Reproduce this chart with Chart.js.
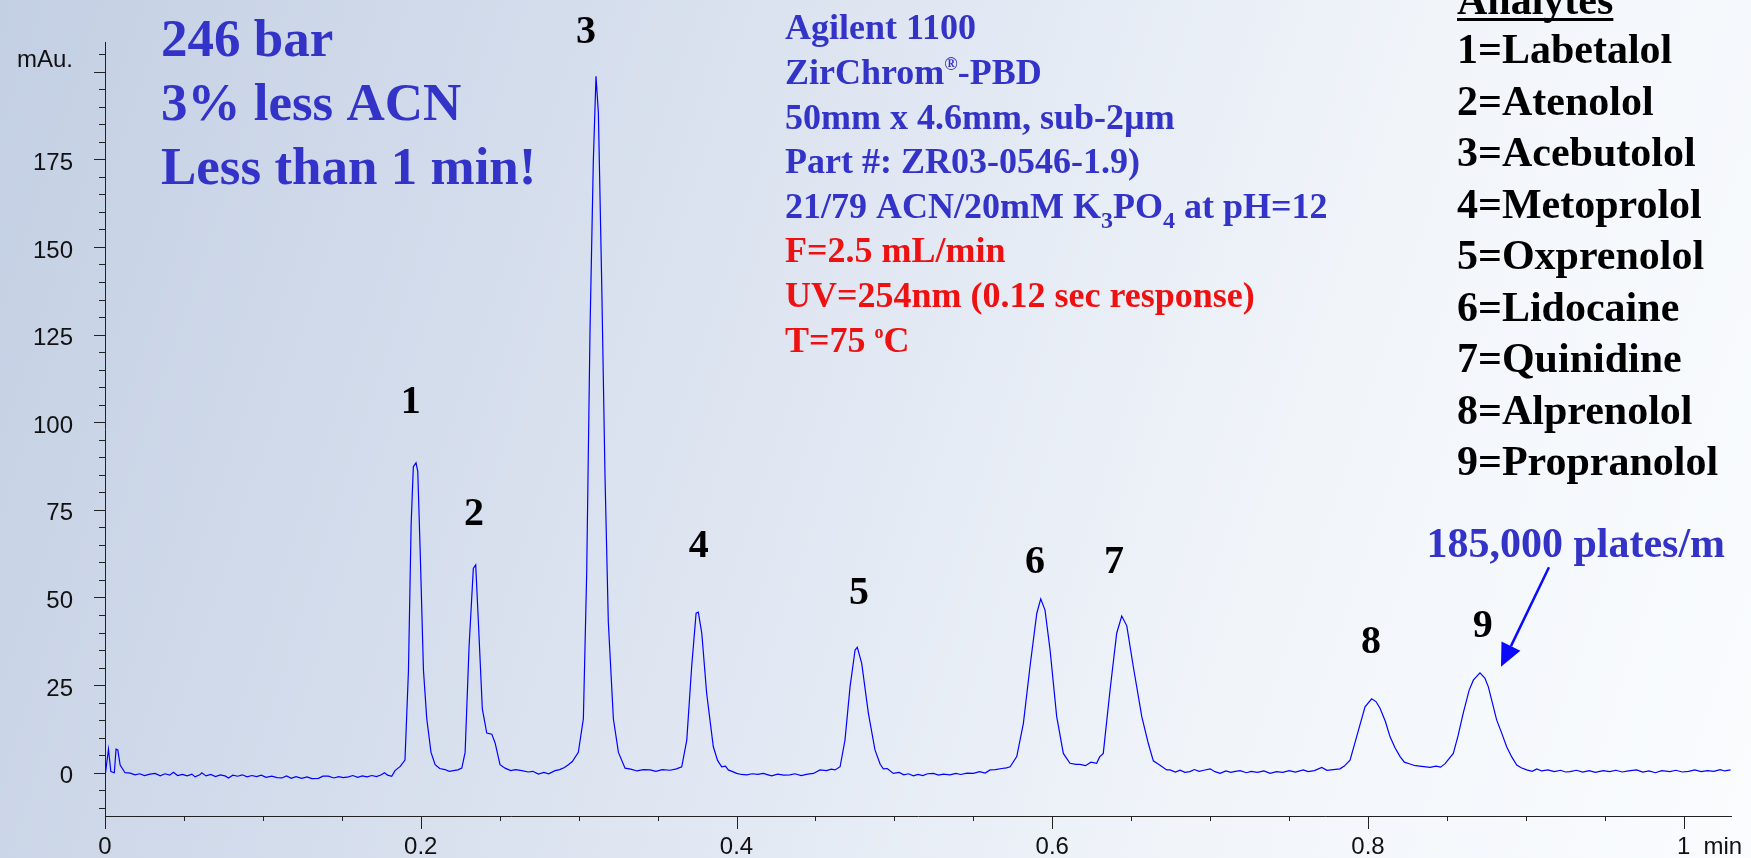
<!DOCTYPE html>
<html>
<head>
<meta charset="utf-8">
<title>Beta-blocker separation on ZirChrom-PBD</title>
<script src="https://cdn.jsdelivr.net/npm/chart.js@4.4.1/dist/chart.umd.min.js"></script>
<style>
  html, body { margin: 0; padding: 0; }
  body {
    width: 1751px;
    height: 858px;
    overflow: hidden;
    background: linear-gradient(108deg, #c3cfe3 0%, #d4ddec 28%, #e4eaf4 52%, #f1f5fa 72%, #fafcfe 100%);
  }
  canvas { display: block; }
</style>
</head>
<body>
<canvas id="chromatogram" width="1751" height="858"></canvas>
<script>
// detector trace, [time (min), signal (mAU)]
const leadIn = [
  [0.0000,-1.2],[0.0022,6.7],[0.0037,0.3],[0.0059,0.0],[0.0070,6.7],[0.0081,6.5],[0.0096,2.2],[0.0127,0.0],[0.0160,-0.1],[0.0190,-0.6],
  [0.0220,-0.3],[0.0250,-0.8],[0.0285,-0.4],[0.0317,-0.2],[0.0350,-0.9],[0.0380,-0.3],[0.0410,-0.7],[0.0433,0.1],[0.0460,-0.8],[0.0490,-0.5],
  [0.0520,-0.9],[0.0550,-0.4],[0.0571,-1.2],[0.0600,-0.6],[0.0613,0.0],[0.0640,-0.9],[0.0670,-0.5],[0.0700,-1.1],[0.0730,-0.6],[0.0760,-0.9],
  [0.0782,-1.5],[0.0810,-0.7],[0.0840,-1.0],[0.0870,-0.6],[0.0900,-1.2],[0.0930,-0.8],[0.0960,-1.1],[0.0990,-0.7],[0.1020,-1.3],[0.1056,-1.0],
  [0.1090,-1.4],[0.1120,-1.5],[0.1150,-0.9],[0.1180,-1.6],[0.1210,-1.1],[0.1246,-1.6],[0.1280,-1.2],[0.1310,-1.7],[0.1352,-1.6],[0.1380,-1.0],
  [0.1415,-1.0],[0.1450,-1.5],[0.1480,-1.1],[0.1510,-1.4],[0.1542,-1.2],[0.1570,-0.8],[0.1600,-1.3],[0.1630,-0.9],[0.1660,-1.2],[0.1690,-0.8],
  [0.1720,-1.1],[0.1750,-0.6],[0.1770,0.0],[0.1790,-0.7],[0.1816,-1.0],[0.1837,0.6],[0.1870,1.8],[0.1900,3.6]
];
const peaks1to3 = [
  [0.1922,29.0],[0.1939,70.8],[0.1953,87.3],[0.1970,88.4],[0.1981,86.0],[0.1996,63.8],[0.2017,29.3],[0.2038,15.4],[0.2065,5.8],[0.2091,2.3],
  [0.2120,1.2],[0.2154,0.9],[0.2180,0.4],[0.2207,0.6],[0.2235,0.8],[0.2260,1.3],[0.2281,5.8],[0.2306,36.0],[0.2333,58.3],[0.2348,59.3],
  [0.2365,43.0],[0.2390,18.2],[0.2418,11.3],[0.2450,11.0],[0.2471,8.5],[0.2502,2.3],[0.2534,1.3],[0.2570,0.6],[0.2600,0.9],[0.2640,0.6],
  [0.2680,0.2],[0.2710,0.4],[0.2745,-0.4],[0.2780,0.1],[0.2810,-0.3],[0.2851,0.6],[0.2880,0.9],[0.2910,1.5],[0.2935,2.3],[0.2960,3.2],
  [0.2998,5.8],[0.3030,15.4],[0.3051,57.0],[0.3072,126.0],[0.3093,174.5],[0.3110,198.7],[0.3125,188.3],[0.3146,140.0],[0.3167,84.6],[0.3188,43.0],
  [0.3220,15.4],[0.3252,5.8],[0.3294,1.3]
];
const peaks4and5 = [
  [0.3330,1.0],[0.3370,0.5],[0.3410,0.9],[0.3452,0.8],[0.3490,0.4],[0.3530,0.9],[0.3579,0.7],[0.3620,1.1],[0.3653,1.7],[0.3685,9.3],
  [0.3716,30.3],[0.3744,45.5],[0.3758,45.8],[0.3780,39.8],[0.3811,22.6],[0.3853,7.4],[0.3880,3.5],[0.3906,1.7],[0.3930,1.9],[0.3948,0.8],
  [0.3975,0.3],[0.4001,-0.2],[0.4030,-0.5],[0.4065,-0.6],[0.4100,-0.3],[0.4135,-0.5],[0.4170,-0.2],[0.4200,-0.6],[0.4223,-0.9],[0.4260,-0.4],
  [0.4300,-0.7],[0.4339,-0.6],[0.4370,-0.3],[0.4410,-0.8],[0.4450,-0.4],[0.4487,-0.2],[0.4529,0.8],[0.4570,0.6],[0.4600,1.0],[0.4624,0.8],
  [0.4656,1.7],[0.4687,9.3],[0.4719,24.5],[0.4751,35.0],[0.4765,35.8],[0.4793,31.2],[0.4835,17.0],[0.4877,6.5],[0.4910,2.4],[0.4930,1.1],
  [0.4955,1.2]
];
const peaks6and7 = [
  [0.4993,-0.2],[0.5030,0.1],[0.5060,-0.6],[0.5090,-0.3],[0.5120,-0.9],[0.5150,-0.5],[0.5180,-0.8],[0.5210,-0.3],[0.5247,-0.2],[0.5280,-0.7],
  [0.5310,-0.4],[0.5352,-0.6],[0.5390,-0.2],[0.5420,-0.5],[0.5460,-0.1],[0.5500,-0.2],[0.5540,0.3],[0.5575,-0.1],[0.5606,0.8],[0.5640,0.9],
  [0.5680,1.2],[0.5710,1.4],[0.5733,1.7],[0.5775,4.6],[0.5817,14.1],[0.5859,30.3],[0.5902,45.5],[0.5927,49.6],[0.5954,46.4],[0.5986,35.0],
  [0.6028,16.0],[0.6070,5.5],[0.6112,2.7],[0.6150,2.4],[0.6176,2.4],[0.6210,2.0],[0.6245,3.0],[0.6281,2.7],[0.6300,4.5],[0.6323,5.5],
  [0.6366,23.6],[0.6408,39.8],[0.6440,44.7],[0.6472,41.9],[0.6513,30.3],[0.6567,16.0],[0.6608,8.4],[0.6640,3.4],[0.6680,2.2],[0.6725,0.8]
];
const peaks8and9 = [
  [0.6746,0.8],[0.6780,0.2],[0.6810,0.7],[0.6840,0.1],[0.6872,0.3],[0.6900,0.9],[0.6930,0.4],[0.6960,0.7],[0.7000,1.1],[0.7030,0.3],
  [0.7063,-0.2],[0.7100,0.5],[0.7130,0.1],[0.7160,0.4],[0.7190,0.6],[0.7230,0.0],[0.7260,0.4],[0.7300,0.1],[0.7340,0.5],[0.7380,-0.2],
  [0.7420,0.3],[0.7460,0.1],[0.7500,0.6],[0.7540,0.2],[0.7590,0.8],[0.7620,0.3],[0.7660,0.6],[0.7707,1.5],[0.7740,0.7],[0.7780,0.9],
  [0.7822,1.1],[0.7850,1.9],[0.7886,3.6],[0.7928,10.3],[0.7981,18.8],[0.8023,21.1],[0.8050,20.3],[0.8076,18.4],[0.8110,14.6],[0.8139,10.3],
  [0.8170,7.2],[0.8203,4.6],[0.8230,3.0],[0.8266,2.5],[0.8300,2.0],[0.8340,1.8],[0.8393,1.5],[0.8430,1.9],[0.8460,1.6],[0.8488,2.6],
  [0.8540,5.5],[0.8570,10.5],[0.8603,17.0],[0.8640,23.5],[0.8667,26.4],[0.8709,28.5],[0.8740,27.0],[0.8762,24.5],[0.8790,19.5],[0.8815,15.0],
  [0.8845,11.5],[0.8878,7.4],[0.8910,4.5],[0.8942,2.2],[0.8970,1.4],[0.9005,0.8],[0.9040,0.4],[0.9069,1.1],[0.9100,0.5],[0.9140,0.8],
  [0.9180,0.3],[0.9220,0.7],[0.9250,0.2],[0.9279,0.3],[0.9320,0.7],[0.9360,0.2],[0.9400,0.6],[0.9440,0.1],[0.9490,0.6],[0.9530,0.3],
  [0.9570,0.7],[0.9610,0.2],[0.9650,0.5],[0.9701,0.8],[0.9740,0.2],[0.9780,0.5],[0.9820,0.0],[0.9860,0.6],[0.9912,0.3],[0.9950,0.7],
  [0.9990,0.2],[1.0030,0.4],[1.0070,0.8],[1.0110,0.3],[1.0150,0.6],[1.0190,0.4],[1.0230,0.9],[1.0260,0.5],[1.0296,0.8]
];

// peak numbers and where their labels sit (time, mAU)
const peakIds = ['1', '2', '3', '4', '5', '6', '7', '8', '9'];
const peakLabelTime = [0.1937, 0.2338, 0.3047, 0.3761, 0.4776, 0.5891, 0.6391, 0.8019, 0.8726];
const peakLabelMau = [102.6, 70.7, 208.1, 61.6, 48.0, 56.9, 56.9, 34.1, 38.8];

// axis ticks
const xMajor = [0, 0.2, 0.4, 0.6, 0.8, 1];
const xTickLabels = ['0', '0.2', '0.4', '0.6', '0.8', '1'];
const yMajor = [0, 25, 50, 75, 100, 125, 150, 175];
const yTickLabels = ['0', '25', '50', '75', '100', '125', '150', '175'];

// text blocks; ^c = superscript char, _c = subscript char
const headline = ['246 bar', '3% less ACN', 'Less than 1 min!'];
const columnInfo = ['Agilent 1100', 'ZirChrom^®-PBD', '50mm x 4.6mm, sub-2µm', 'Part #: ZR03-0546-1.9)', '21/79 ACN/20mM K_3PO_4 at pH=12'];
const runConditions = ['F=2.5 mL/min', 'UV=254nm (0.12 sec response)', 'T=75 ^oC'];
const analytes = ['Labetalol', 'Atenolol', 'Acebutolol', 'Metoprolol', 'Oxprenolol', 'Lidocaine', 'Quinidine', 'Alprenolol', 'Propranolol'];
const plateNote = '185,000 plates/m';

const SERIF = '"Liberation Serif", "Times New Roman", serif';
const SANS = '"Liberation Sans", Arial, sans-serif';
const TEXT_BLUE = '#3333c8';
const TEXT_RED = '#ee1111';
const X_LABEL_PAD = 17;

const trace = [...leadIn, ...peaks1to3, ...peaks4and5, ...peaks6and7, ...peaks8and9];

const xTickValues = [];
for (let i = 0; i <= 20; i++) xTickValues.push(Math.round(i * 5) / 100);
const yTickValues = [];
for (let v = -10; v <= 205; v += 5) yTickValues.push(v);

const near = (a, b) => Math.abs(a - b) < 1e-6;

// draws one line of bold serif with ^/_ markers for raised or lowered characters
function drawRich(ctx, text, x, y, size) {
  let i = 0;
  while (i < text.length) {
    const c = text[i];
    if ((c === '^' || c === '_') && i + 1 < text.length) {
      const ch = text[i + 1];
      const small = c === '^' ? Math.round(size * 0.5) : Math.round(size * 0.68);
      const dy = c === '^' ? -size * 0.37 : size * 0.28;
      ctx.font = `bold ${small}px ${SERIF}`;
      ctx.fillText(ch, x, y + dy);
      x += ctx.measureText(ch).width;
      i += 2;
    } else {
      let j = i;
      while (j < text.length && text[j] !== '^' && text[j] !== '_') j++;
      const chunk = text.slice(i, j);
      ctx.font = `bold ${size}px ${SERIF}`;
      ctx.fillText(chunk, x, y);
      x += ctx.measureText(chunk).width;
      i = j;
    }
  }
}

const decorations = {
  id: 'decorations',
  afterDraw(chart) {
    const { ctx, chartArea, scales: { x, y } } = chart;
    ctx.save();

    // tick marks, long at the labelled positions
    ctx.strokeStyle = '#222';
    ctx.lineWidth = 1;
    ctx.beginPath();
    yTickValues.forEach(v => {
      const py = Math.round(y.getPixelForValue(v)) + 0.5;
      const len = v % 25 === 0 ? 11 : 6;
      ctx.moveTo(chartArea.left - len, py);
      ctx.lineTo(chartArea.left, py);
    });
    xTickValues.forEach(v => {
      const px = Math.round(x.getPixelForValue(v)) + 0.5;
      const len = xMajor.some(m => near(m, v)) ? 13 : 5;
      ctx.moveTo(px, chartArea.bottom);
      ctx.lineTo(px, chartArea.bottom + len);
    });
    ctx.stroke();

    // unit labels
    ctx.fillStyle = '#111';
    ctx.font = `24px ${SANS}`;
    ctx.textBaseline = 'middle';
    ctx.textAlign = 'right';
    ctx.fillText('mAu.', 73, 60);
    ctx.textAlign = 'left';
    const oneX = x.getPixelForValue(1);
    ctx.fillText('min', oneX + ctx.measureText('1').width / 2 + 13, chartArea.bottom + X_LABEL_PAD + 14.4);

    ctx.textBaseline = 'alphabetic';

    // peak numbers
    ctx.fillStyle = '#000';
    ctx.textAlign = 'center';
    ctx.font = `bold 40px ${SERIF}`;
    peakIds.forEach((id, i) => {
      ctx.fillText(id, x.getPixelForValue(peakLabelTime[i]), y.getPixelForValue(peakLabelMau[i]));
    });

    ctx.textAlign = 'left';

    // headline
    ctx.fillStyle = TEXT_BLUE;
    headline.forEach((line, i) => drawRich(ctx, line, 161, 56 + i * 64, 53));

    // column and run conditions
    columnInfo.forEach((line, i) => {
      ctx.fillStyle = TEXT_BLUE;
      drawRich(ctx, line, 785, 39 + i * 44.8, 36);
    });
    runConditions.forEach((line, i) => {
      ctx.fillStyle = TEXT_RED;
      drawRich(ctx, line, 785, 262 + i * 44.8, 36);
    });

    // analyte list
    ctx.fillStyle = '#000';
    ctx.font = `bold 42px ${SERIF}`;
    ctx.fillText('Analytes', 1457, 14);
    const uw = ctx.measureText('Analytes').width;
    ctx.fillRect(1457, 18, uw, 3);
    analytes.forEach((name, i) => {
      ctx.fillText(`${i + 1}=${name}`, 1457, 63 + i * 51.5);
    });

    // plate count note with arrow to peak 9
    ctx.fillStyle = TEXT_BLUE;
    ctx.font = `bold 42px ${SERIF}`;
    ctx.fillText(plateNote, x.getPixelForValue(0.8370), y.getPixelForValue(61.6));

    const tx = x.getPixelForValue(0.9146), ty = y.getPixelForValue(58.6);
    const hx = x.getPixelForValue(0.8842), hy = y.getPixelForValue(30.2);
    const ang = Math.atan2(hy - ty, hx - tx);
    const headLen = 23, halfW = 10.5;
    const bx = hx - headLen * Math.cos(ang), by = hy - headLen * Math.sin(ang);
    ctx.strokeStyle = '#0a0aff';
    ctx.fillStyle = '#0a0aff';
    ctx.lineWidth = 2.5;
    ctx.beginPath();
    ctx.moveTo(tx, ty);
    ctx.lineTo(bx, by);
    ctx.stroke();
    ctx.beginPath();
    ctx.moveTo(hx, hy);
    ctx.lineTo(bx - halfW * Math.sin(ang), by + halfW * Math.cos(ang));
    ctx.lineTo(bx + halfW * Math.sin(ang), by - halfW * Math.cos(ang));
    ctx.closePath();
    ctx.fill();

    ctx.restore();
  }
};

new Chart(document.getElementById('chromatogram'), {
  type: 'line',
  data: {
    datasets: [{
      data: trace.map(([t, mau]) => ({ x: t, y: mau })),
      borderColor: '#0000ff',
      borderWidth: 1.2,
      pointRadius: 0,
      tension: 0,
      fill: false
    }]
  },
  options: {
    animation: false,
    responsive: false,
    events: [],
    layout: { padding: { left: 0, top: 42, right: 20, bottom: 0 } },
    plugins: {
      legend: { display: false },
      tooltip: { enabled: false }
    },
    scales: {
      x: {
        type: 'linear',
        min: 0,
        max: 1.0299,
        afterFit: scale => {
          scale.height = 42;
          scale.paddingLeft = 0;
          scale.paddingRight = 0;
        },
        afterBuildTicks: scale => { scale.ticks = xTickValues.map(v => ({ value: v })); },
        grid: { display: false, drawTicks: false },
        border: { display: true, color: '#222', width: 1 },
        ticks: {
          autoSkip: false,
          maxRotation: 0,
          padding: X_LABEL_PAD,
          color: '#111',
          font: { family: SANS, size: 24 },
          callback: value => {
            const i = xMajor.findIndex(m => near(m, value));
            return i >= 0 ? xTickLabels[i] : '';
          }
        }
      },
      y: {
        type: 'linear',
        min: -12.35,
        max: 208.47,
        afterFit: scale => {
          scale.width = 105;
          scale.paddingTop = 0;
          scale.paddingBottom = 0;
        },
        afterBuildTicks: scale => { scale.ticks = yTickValues.map(v => ({ value: v })); },
        grid: { display: false, drawTicks: false },
        border: { display: true, color: '#222', width: 1 },
        ticks: {
          autoSkip: false,
          padding: 32,
          labelOffset: 4,
          color: '#111',
          font: { family: SANS, size: 24 },
          callback: value => {
            const i = yMajor.indexOf(value);
            return i >= 0 ? yTickLabels[i] : '';
          }
        }
      }
    }
  },
  plugins: [decorations]
});
</script>
</body>
</html>
